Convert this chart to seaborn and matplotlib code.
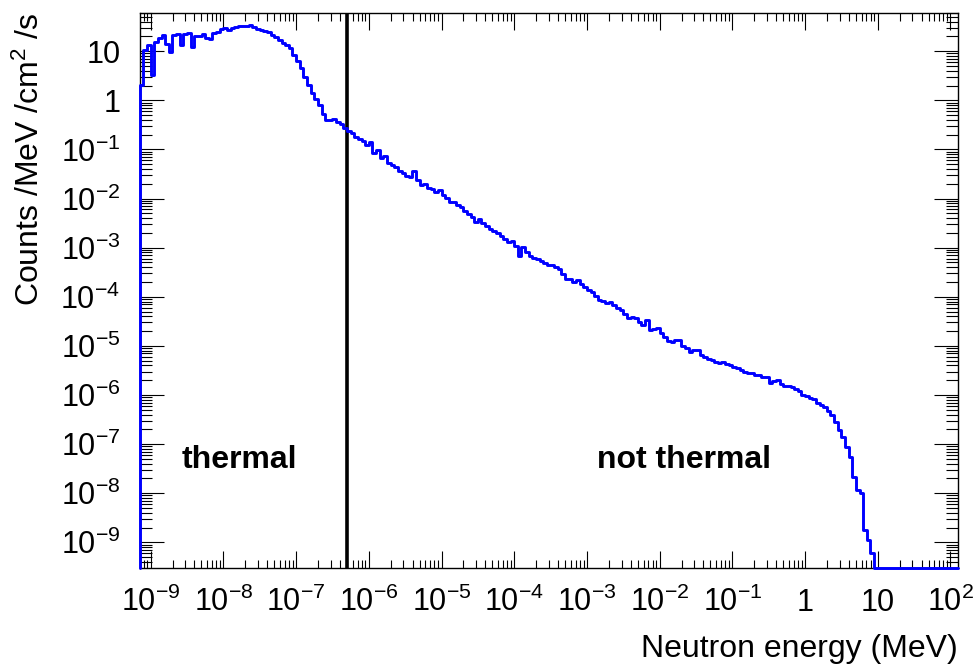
import numpy as np
import pandas as pd
import matplotlib
matplotlib.use("Agg")
import matplotlib.pyplot as plt
from matplotlib.ticker import FixedLocator, LogLocator, FuncFormatter, NullFormatter
import seaborn as sns

# Neutron flux spectrum, log10(counts /MeV /cm^2 /s) per log-spaced energy bin,
# read off the plot. Bins past the last entry are empty.
log_flux = [
    0.31, 1.03, 1.13, 0.52, 1.19, 1.27, 1.33, 1.15, 0.99, 1.33,
    1.35, 1.13, 1.35, 1.37, 1.09, 1.31, 1.31, 1.35, 1.27, 1.25,
    1.37, 1.39, 1.45, 1.47, 1.43, 1.47, 1.49, 1.52, 1.52, 1.52,
    1.54, 1.49, 1.45, 1.43, 1.41, 1.39, 1.33, 1.29, 1.23, 1.17,
    1.13, 1.07, 0.93, 0.80, 0.66, 0.48, 0.31, 0.15, 0.03, -0.09,
    -0.28, -0.40, -0.40, -0.38, -0.44, -0.48, -0.56, -0.62, -0.66, -0.75,
    -0.79, -0.83, -0.91, -0.85, -1.07, -1.01, -1.17, -1.13, -1.27, -1.32,
    -1.36, -1.44, -1.48, -1.54, -1.56, -1.44, -1.62, -1.72, -1.70, -1.78,
    -1.80, -1.87, -1.82, -1.93, -1.99, -2.07, -2.07, -2.13, -2.17, -2.25,
    -2.31, -2.37, -2.48, -2.42, -2.50, -2.56, -2.62, -2.66, -2.70, -2.76,
    -2.82, -2.88, -2.86, -2.97, -3.17, -2.99, -3.09, -3.17, -3.21, -3.23,
    -3.27, -3.31, -3.35, -3.35, -3.39, -3.43, -3.54, -3.64, -3.64, -3.70,
    -3.66, -3.74, -3.80, -3.86, -3.90, -3.98, -4.07, -4.09, -4.13, -4.11,
    -4.17, -4.23, -4.27, -4.35, -4.43, -4.41, -4.43, -4.51, -4.58, -4.47,
    -4.68, -4.66, -4.64, -4.74, -4.82, -4.90, -4.92, -4.88, -4.88, -5.00,
    -5.04, -5.12, -5.08, -5.08, -5.18, -5.23, -5.27, -5.29, -5.33, -5.35,
    -5.33, -5.37, -5.39, -5.43, -5.45, -5.49, -5.53, -5.55, -5.55, -5.59,
    -5.59, -5.63, -5.63, -5.76, -5.71, -5.69, -5.78, -5.82, -5.82, -5.84,
    -5.88, -5.92, -6.00, -6.02, -6.06, -6.08, -6.16, -6.20, -6.24, -6.33,
    -6.41, -6.55, -6.71, -6.86, -7.06, -7.26, -7.67, -7.93, -7.99, -8.75,
    -8.95, -9.22,
]
n_bins = 225
log_e_range = (-9.15, 2.1)        # histogram range, log10(MeV)
log_y_range = (-9.517, 1.786)     # displayed y range, log10
x_decades = list(range(-9, 3))    # labelled x ticks, log10(MeV)
y_decades = list(range(-9, 2))    # labelled y ticks, log10
cd_cutoff = 5e-7                  # MeV, thermal / not thermal boundary
region_labels = ["thermal", "not thermal"]
x_title = "Neutron energy (MeV)"
y_title = r"Counts /MeV /cm$^{2}$ /s"

sns.set_theme(style="ticks")
plt.rcParams["font.family"] = ["Liberation Sans", "DejaVu Sans"]
plt.rcParams["mathtext.fontset"] = "custom"
plt.rcParams["mathtext.rm"] = "Liberation Sans"
plt.rcParams["mathtext.it"] = "Liberation Sans:italic"
plt.rcParams["text.color"] = "black"
plt.rcParams["axes.labelcolor"] = "black"

edges = np.logspace(log_e_range[0], log_e_range[1], n_bins + 1)
flux = np.zeros(n_bins)
flux[:len(log_flux)] = 10 ** np.array(log_flux)

ymin, ymax = 10 ** log_y_range[0], 10 ** log_y_range[1]
drawn = np.clip(flux, ymin, None)  # empty bins sit on the frame, like ROOT
df = pd.DataFrame({
    "energy": np.concatenate([[edges[0]], edges]),
    "flux": np.concatenate([[ymin], drawn, [drawn[-1]]]),
})

fig = plt.figure(figsize=(9.74, 6.64), dpi=100)
ax = fig.add_axes([0.1435, 0.145, 0.8398, 0.836])

sns.lineplot(data=df, x="energy", y="flux", ax=ax, estimator=None, sort=False,
             drawstyle="steps-post", color="#0000ff", linewidth=2.1,
             clip_on=False, zorder=4)
ax.axvline(cd_cutoff, color="black", linewidth=2.6, zorder=3)

ax.set_xscale("log")
ax.set_yscale("log")
ax.set_xlim(edges[0], edges[-1])
ax.set_ylim(ymin, ymax)


def root_fmt(v, pos):
    e = int(round(np.log10(v)))
    if e == 0:
        return "1"
    if e == 1:
        return "10"
    return r"$\mathregular{10^{%d}}$" % e


ax.xaxis.set_major_locator(FixedLocator([10.0 ** d for d in x_decades]))
ax.yaxis.set_major_locator(FixedLocator([10.0 ** d for d in y_decades]))
for axis in (ax.xaxis, ax.yaxis):
    axis.set_minor_locator(LogLocator(base=10, subs=np.arange(2, 10) * 1.0, numticks=100))
    axis.set_major_formatter(FuncFormatter(root_fmt))
    axis.set_minor_formatter(NullFormatter())

ax.tick_params(which="both", direction="in", top=True, right=True,
               width=0.8, color="black", labelsize=22, labelcolor="black")
ax.tick_params(axis="x", which="major", length=12, pad=31)
ax.tick_params(axis="x", which="minor", length=6)
ax.tick_params(axis="y", which="major", length=17.6, pad=14)
ax.tick_params(axis="y", which="minor", length=8.8)
for spine in ax.spines.values():
    spine.set_color("black")
    spine.set_linewidth(1.0)

fig.canvas.draw()
plt.setp(ax.get_xticklabels(), va="baseline")

ax.set_xlabel(x_title, fontsize=23, loc="right", color="black")
ax.xaxis.label.set_va("baseline")
ax.xaxis.set_label_coords(1.0, -0.161)
ax.set_ylabel(y_title, fontsize=23, loc="top", color="black")
ax.yaxis.label.set_va("baseline")
ax.yaxis.set_label_coords(-0.1232, 1.0)

ax.text(0.0516, 0.194, region_labels[0], transform=ax.transAxes, color="black",
        fontsize=23, fontweight="bold", ha="left", va="center")
ax.text(0.559, 0.194, region_labels[1], transform=ax.transAxes, color="black",
        fontsize=23, fontweight="bold", ha="left", va="center")

fig.savefig("out.png", dpi=100, facecolor="white")
